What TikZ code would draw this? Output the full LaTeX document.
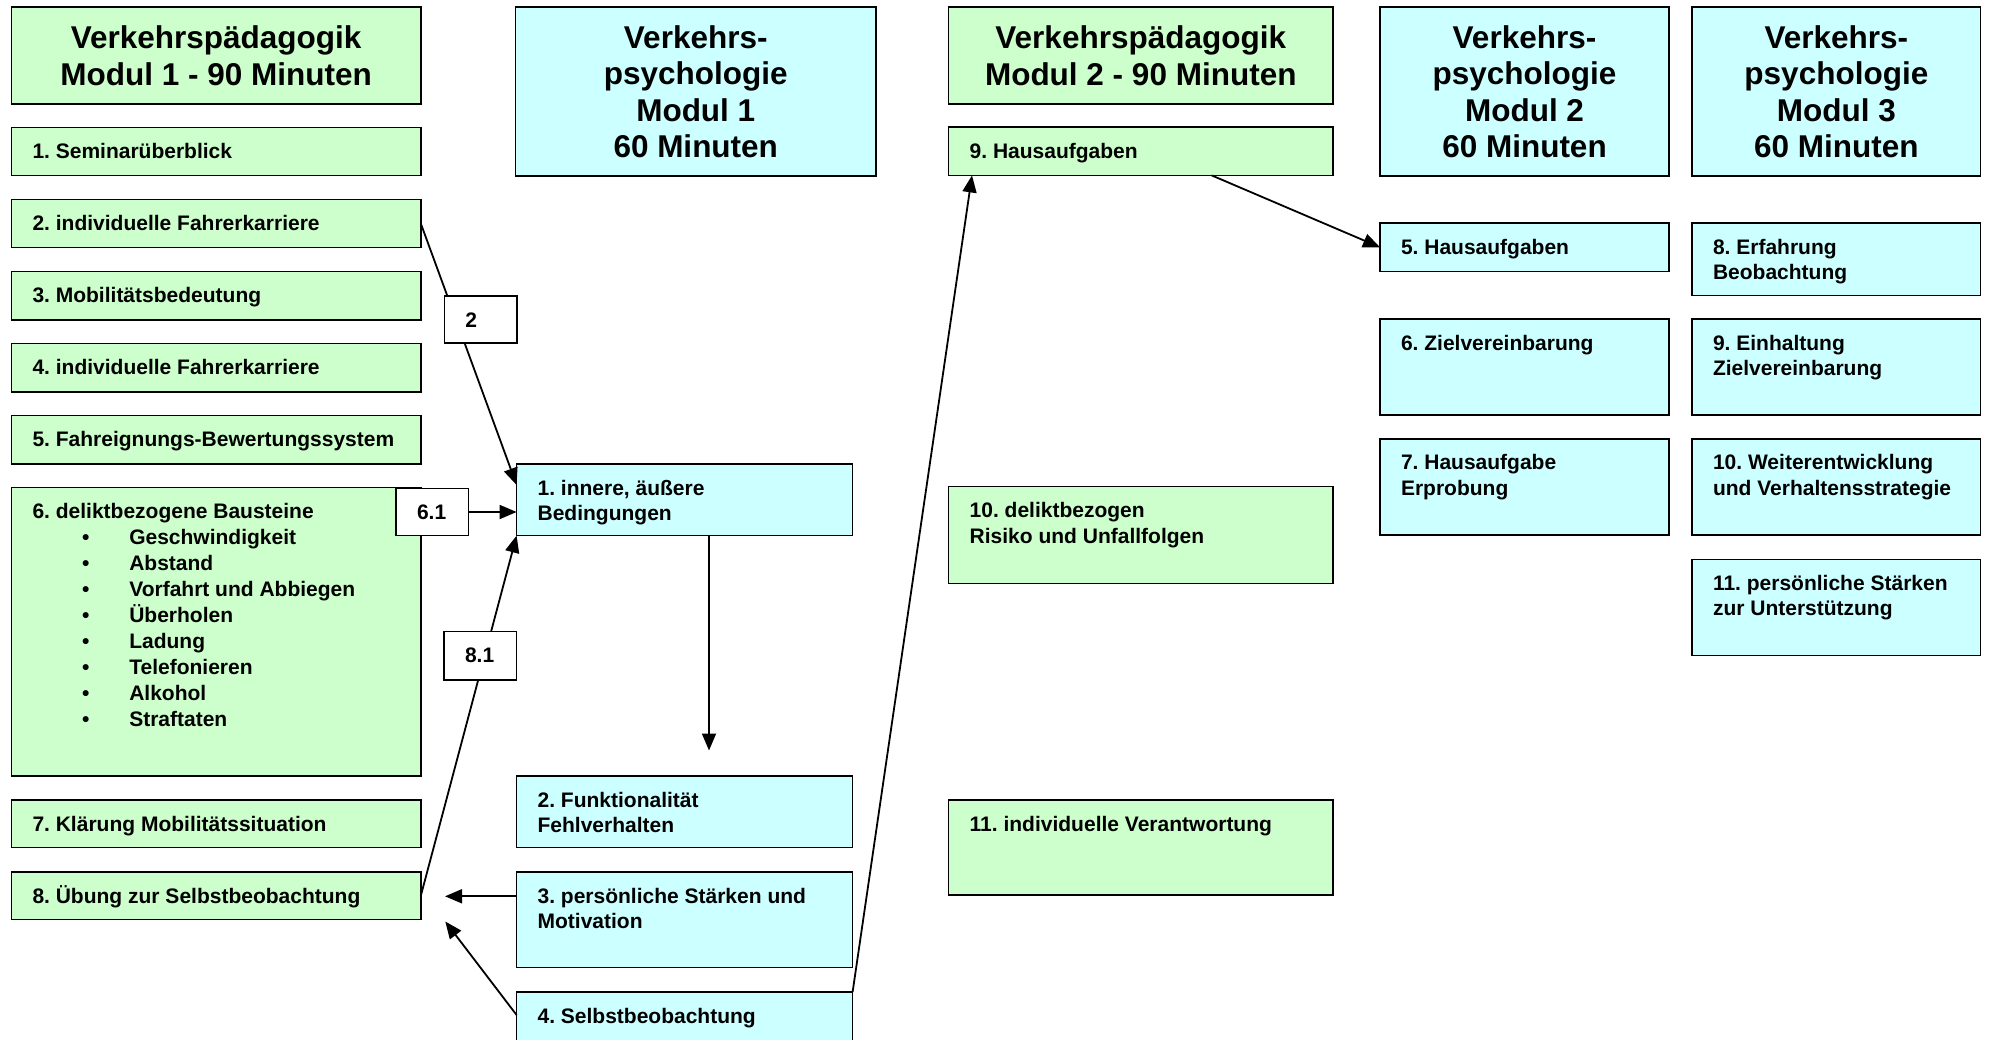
\documentclass[tikz,border=0pt]{standalone}
\usepackage{fontspec}
\setmainfont{Liberation Sans}
\usetikzlibrary{arrows.meta}
\definecolor{pgreen}{HTML}{CCFFCC}
\definecolor{pcyan}{HTML}{CCFFFF}
\frenchspacing
\newcommand\bt[3]{\begin{minipage}[t][#2][t]{#1}\fontsize{21pt}{25.5pt}\selectfont\bfseries\frenchspacing\raggedright\leftskip=21pt\relax\rule{0pt}{31pt}#3\end{minipage}}
\newcommand\hdr[3]{\begin{minipage}[c][#2][c]{#1}\fontsize{31.5pt}{36.5pt}\selectfont\bfseries\frenchspacing\centering #3\end{minipage}}
\newcommand\bl{\makebox[96.8pt][l]{\hspace*{49.5pt}\textbullet}}
\tikzset{
  box/.style={draw=black, line width=1.5pt, inner sep=0pt, outer sep=0pt, anchor=north west},
  gbox/.style={box, fill=pgreen},
  cbox/.style={box, fill=pcyan},
  lbox/.style={box, fill=white},
  conn/.style={line width=1.8pt, -{Triangle[length=17pt,width=14pt]}},
}
\begin{document}
\begin{tikzpicture}[x=1pt,y=-1pt]
\useasboundingbox (0,0) rectangle (1991,1039);
% headers
\node[gbox] (h1) at (11.5,7) {\hdr{409.3pt}{97pt}{Verkehrspädagogik\\Modul 1 - 90 Minuten}};
\node[cbox] (h2) at (515.5,7) {\hdr{360.5pt}{169pt}{Verkehrs-\\psychologie\\Modul 1\\60 Minuten}};
\node[gbox] (h3) at (948.7,7) {\hdr{384.1pt}{97pt}{Verkehrspädagogik\\Modul 2 - 90 Minuten}};
\node[cbox] (h4) at (1380,7) {\hdr{289pt}{169pt}{Verkehrs-\\psychologie\\Modul 2\\60 Minuten}};
\node[cbox] (h5) at (1692,7) {\hdr{288.7pt}{169pt}{Verkehrs-\\psychologie\\Modul 3\\60 Minuten}};
% column 1
\node[gbox] (g1) at (11.5,127.3) {\bt{409.3pt}{48.4pt}{1. Seminarüberblick}};
\node[gbox] (g2) at (11.5,199.3) {\bt{409.3pt}{48.4pt}{2. individuelle Fahrerkarriere}};
\node[gbox] (g3) at (11.5,271.5) {\bt{409.3pt}{48.4pt}{3. Mobilitätsbedeutung}};
\node[gbox] (g4) at (11.5,343.5) {\bt{409.3pt}{48.4pt}{4. individuelle Fahrerkarriere}};
\node[gbox] (g5) at (11.5,415.7) {\bt{409.3pt}{48.4pt}{5. Fahreignungs-Bewertungssystem}};
\node[gbox] (g6) at (11.5,487.3) {\bt{409.3pt}{288.7pt}{\baselineskip=26pt 6. deliktbezogene Bausteine\\
\bl Geschwindigkeit\\
\bl Abstand\\
\bl Vorfahrt und Abbiegen\\
\bl Überholen\\
\bl Ladung\\
\bl Telefonieren\\
\bl Alkohol\\
\bl Straftaten}};
\node[gbox] (g7) at (11.5,800) {\bt{409.3pt}{47.5pt}{7. Klärung Mobilitätssituation}};
\node[gbox] (g8) at (11.5,872) {\bt{409.3pt}{47.7pt}{8. Übung zur Selbstbeobachtung}};
% column 2
\node[cbox] (c1) at (516.6,464) {\bt{336pt}{71.6pt}{1. innere, äußere\\Bedingungen}};
\node[cbox] (c2) at (516.6,776) {\bt{336pt}{71.5pt}{2. Funktionalität\\Fehlverhalten}};
\node[cbox] (c3) at (516.6,872) {\bt{336pt}{95.7pt}{3. persönliche Stärken und\\Motivation}};
\node[cbox] (c4) at (516.6,992) {\bt{336pt}{95pt}{4. Selbstbeobachtung}};
% column 3
\node[gbox] (g9) at (948.7,127.2) {\bt{384.1pt}{48.2pt}{9. Hausaufgaben}};
\node[gbox] (g10) at (948.7,486.6) {\bt{384.1pt}{97pt}{10. deliktbezogen\\Risiko und Unfallfolgen}};
\node[gbox] (g11) at (948.7,800) {\bt{384.1pt}{95pt}{11. individuelle Verantwortung}};
% column 4
\node[cbox] (c5) at (1380,223.2) {\bt{289pt}{48.2pt}{5. Hausaufgaben}};
\node[cbox] (c6) at (1380,319.2) {\bt{289pt}{96pt}{6. Zielvereinbarung}};
\node[cbox] (c7) at (1380,438.8) {\bt{289pt}{96pt}{7. Hausaufgabe\\Erprobung}};
% column 5
\node[cbox] (c8) at (1692,223.2) {\bt{288.7pt}{72.3pt}{8. Erfahrung\\Beobachtung}};
\node[cbox] (c9) at (1692,319.2) {\bt{288.7pt}{96pt}{9. Einhaltung\\Zielvereinbarung}};
\node[cbox] (c10) at (1692,438.8) {\bt{288.7pt}{96pt}{10. Weiterentwicklung\\und Verhaltensstrategie}};
\node[cbox] (c11) at (1692,559.4) {\bt{288.7pt}{96pt}{11. persönliche Stärken\\zur Unterstützung}};
% connectors passing under label boxes
\draw[conn] (g2.east) -- ([yshift=-21pt]c1.north west);
\draw[conn] (g8.east) -- (c1.south west);
% label boxes
\node[lbox] (L2) at (444.4,296) {\bt{72.4pt}{47pt}{2}};
\node[lbox] (L61) at (396,488.3) {\bt{72.3pt}{47.4pt}{6.1}};
\node[lbox] (L81) at (444,631.4) {\bt{72.7pt}{48.5pt}{8.1}};
% other connectors
\draw[conn] (L61.east) -- (c1.west |- L61.east);
\coordinate (v1) at (709,750.5);
\draw[conn] (v1 |- c1.south) -- (v1);
\coordinate (t3) at (445,896.3);
\draw[conn] (c3.west |- t3) -- (t3);
\coordinate (t4) at (445.3,921.5);
\draw[conn] ([yshift=-23pt]c4.north west) -- (t4);
\draw[conn] (c4.north east) -- ([xshift=23.3pt]g9.south west);
\draw[conn] ([xshift=263pt]g9.south west) -- (c5.west);
\end{tikzpicture}
\end{document}
